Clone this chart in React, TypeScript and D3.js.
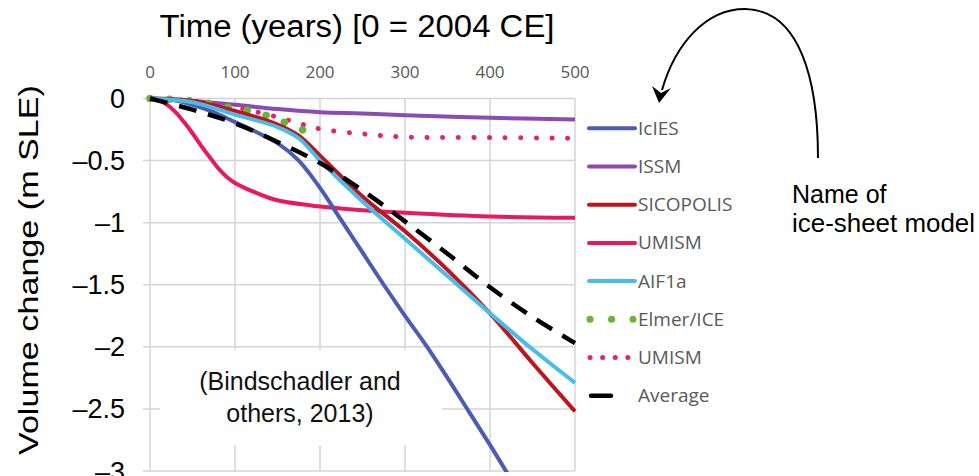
import React from "react";
import * as d3 from "d3";

const xTicks = [0, 100, 200, 300, 400, 500];
const yTicks = [0, -0.5, -1, -1.5, -2, -2.5, -3];
const yTickLabels = ["0", "–0.5", "–1", "–1.5", "–2", "–2.5", "–3"];

const icies = [[0, 0], [25, -0.01], [50, -0.05], [75, -0.11], [100, -0.19], [125, -0.27], [150, -0.36], [175, -0.5], [200, -0.72], [225, -0.98], [250, -1.24], [275, -1.5], [300, -1.75], [325, -1.99], [350, -2.25], [375, -2.52], [400, -2.79], [425, -3.07]];
const issm = [[0, 0], [50, -0.02], [100, -0.05], [150, -0.085], [200, -0.11], [250, -0.12], [300, -0.135], [400, -0.155], [500, -0.17]];
const sicopolis = [[0, 0], [50, -0.02], [100, -0.1], [150, -0.21], [175, -0.3], [200, -0.46], [250, -0.79], [300, -1.07], [350, -1.38], [400, -1.73], [450, -2.13], [500, -2.52]];
const umism = [[0, 0], [10, -0.01], [20, -0.05], [30, -0.11], [40, -0.19], [50, -0.28], [60, -0.38], [70, -0.47], [80, -0.56], [90, -0.63], [100, -0.68], [125, -0.76], [150, -0.82], [200, -0.87], [250, -0.9], [300, -0.92], [400, -0.95], [500, -0.96]];
const aif1a = [[0, 0], [50, -0.03], [100, -0.13], [150, -0.23], [175, -0.32], [200, -0.5], [250, -0.83], [300, -1.13], [350, -1.43], [400, -1.73], [450, -2.02], [500, -2.29]];
const elmer = [[0, 0], [50, -0.02], [100, -0.08], [125, -0.11], [150, -0.17], [175, -0.24], [185, -0.27]];
const umismDot = [[0, 0], [50, -0.02], [100, -0.07], [150, -0.15], [175, -0.2], [200, -0.245], [250, -0.285], [300, -0.31], [400, -0.315], [500, -0.32]];
const average = [[0, 0], [50, -0.09], [100, -0.2], [150, -0.35], [200, -0.52], [250, -0.74], [300, -0.99], [350, -1.25], [400, -1.52], [450, -1.76], [500, -1.97]];

const seriesNames = ["IcIES", "ISSM", "SICOPOLIS", "UMISM", "AIF1a", "Elmer/ICE", "UMISM", "Average"];

const W = 979, H = 476;
const x = d3.scaleLinear().domain([0, 500]).range([150, 575]);
const y = d3.scaleLinear().domain([0, -3]).range([98.5, 471]);

type S = { name: string; data: number[][]; color: string; width: number; dash?: string; cap?: string; legend: string };

const series: S[] = [
  { name: seriesNames[1], data: issm, color: "#8a4cb3", width: 4, legend: "solid" },
  { name: seriesNames[3], data: umism, color: "#e8195e", width: 4, legend: "solid" },
  { name: seriesNames[6], data: umismDot, color: "#e0256c", width: 5, dash: "0.1 15.5", cap: "round", legend: "dots" },
  { name: seriesNames[5], data: elmer, color: "#6ab43a", width: 7.5, dash: "0.1 19.5", cap: "round", legend: "bigdots" },
  { name: seriesNames[0], data: icies, color: "#4b5db2", width: 4, legend: "solid" },
  { name: seriesNames[2], data: sicopolis, color: "#c0141c", width: 4, legend: "solid" },
  { name: seriesNames[4], data: aif1a, color: "#47bde9", width: 4, legend: "solid" },
  { name: seriesNames[7], data: average, color: "#000000", width: 4.5, dash: "18 12", legend: "dash" },
];

const legendOrder = [4, 0, 5, 1, 6, 3, 2, 7];

const line = d3.line<number[]>().x(d => x(d[0])).y(d => y(d[1])).curve(d3.curveCatmullRom.alpha(0.5));

export default function App() {
  const arial = "'Liberation Sans', Arial, sans-serif";
  const calibri = "'Open Sans', sans-serif";
  return (
    <svg width={W} height={H} style={{ position: "absolute", left: 0, top: 0, background: "#fff" }}>
      <defs>
        <clipPath id="plot">
          <rect x={140} y={88} width={445} height={384} />
        </clipPath>
      </defs>
      <rect x={0} y={0} width={W} height={H} fill="#fff" />
      {yTicks.map(t => (
        <line key={"h" + t} x1={143} x2={x(500)} y1={y(t)} y2={y(t)} stroke="#d4d4d4" strokeWidth={1.5} />
      ))}
      {xTicks.map(t => (
        <line key={"v" + t} x1={x(t)} x2={x(t)} y1={y(0)} y2={y(-3)} stroke="#d4d4d4" strokeWidth={1.5} />
      ))}
      <rect x={160} y={350} width={282} height={95} fill="#fff" />
      <text x={300} y={390} textAnchor="middle" fontFamily={arial} fontSize={25} fill="#111">(Bindschadler and</text>
      <text x={300} y={422} textAnchor="middle" fontFamily={arial} fontSize={25} fill="#111">others, 2013)</text>
      <g clipPath="url(#plot)">
        {series.map((s, i) => (
          <path key={i} d={line(s.data) || ""} fill="none" stroke={s.color} strokeWidth={s.width}
            strokeDasharray={s.dash} strokeLinecap={(s.cap as any) || "butt"} strokeLinejoin="round" />
        ))}
      </g>
      {xTicks.map(t => (
        <text key={"xt" + t} x={x(t)} y={78} textAnchor="middle" fontFamily={calibri} fontSize={17} fill="#595959">{t}</text>
      ))}
      <text x={357} y={37} textAnchor="middle" fontFamily={arial} fontSize={31} fill="#000" textLength={395} lengthAdjust="spacingAndGlyphs">Time (years) [0 = 2004 CE]</text>
      {yTicks.map((t, i) => (
        <text key={"yt" + t} x={125} y={y(t) + 9.5} textAnchor="end" fontFamily={arial} fontSize={27} fill="#000">{yTickLabels[i]}</text>
      ))}
      <text transform="translate(38,270) rotate(-90)" textAnchor="middle" fontFamily={arial} fontSize={28} fill="#000" textLength={370} lengthAdjust="spacingAndGlyphs">Volume change (m SLE)</text>
      {legendOrder.map((si, r) => {
        const s = series[si];
        const cy = 128.3 + r * 38.2;
        let sample;
        if (s.legend === "solid") sample = <line x1={589} x2={635} y1={cy} y2={cy} stroke={s.color} strokeWidth={4} strokeLinecap="round" />;
        else if (s.legend === "bigdots") sample = <line x1={590} x2={633} y1={cy} y2={cy} stroke={s.color} strokeWidth={7} strokeDasharray="0.1 21.4" strokeLinecap="round" />;
        else if (s.legend === "dots") sample = <line x1={590} x2={630} y1={cy} y2={cy} stroke={s.color} strokeWidth={5} strokeDasharray="0.1 12.5" strokeLinecap="round" />;
        else sample = <line x1={591} x2={611} y1={cy} y2={cy} stroke={s.color} strokeWidth={4.5} strokeLinecap="round" />;
        return (
          <g key={"lg" + r}>
            {sample}
            <text x={638} y={cy + 6.5} fontFamily={calibri} fontSize={19} fill="#595959">{s.name}</text>
          </g>
        );
      })}
      <path d="M818,158 C818,80 800,10 745,9 C705,9 675,45 662,90" fill="none" stroke="#000" strokeWidth={2} />
      <path d="M652,86 L659,103 L671,88 L661,93 Z" fill="#000" />
      <text x={792} y={203} fontFamily={arial} fontSize={25} fill="#000">Name of</text>
      <text x={792} y={232} fontFamily={arial} fontSize={25} fill="#000" textLength={183} lengthAdjust="spacingAndGlyphs">ice-sheet model</text>
    </svg>
  );
}
